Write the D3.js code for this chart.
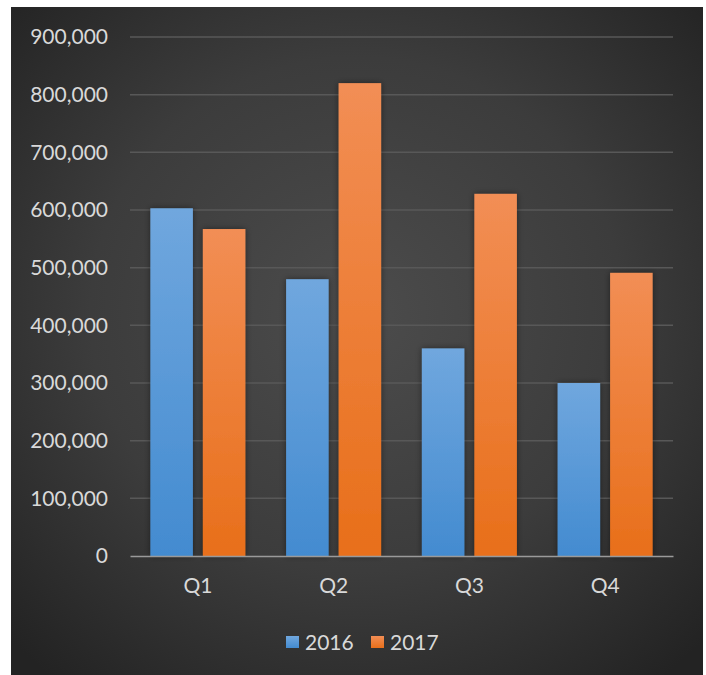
<!DOCTYPE html>
<html>
<head>
<meta charset="utf-8">
<script src="https://cdn.jsdelivr.net/npm/d3@7"></script>
<style>
  html, body { margin: 0; padding: 0; background: #ffffff; }
  svg { display: block; }
  text { font-family: Lato, "Open Sans", sans-serif; }
</style>
</head>
<body>
<svg id="chart" width="706" height="675"></svg>
<script>
// Quarterly totals by year
const quarters = ["Q1", "Q2", "Q3", "Q4"];
const seriesNames = ["2016", "2017"];
const values2016 = [603000, 480000, 360000, 300000];
const values2017 = [567000, 820000, 628000, 491000];
const yTicks = [0, 100000, 200000, 300000, 400000, 500000, 600000, 700000, 800000, 900000];

const seriesValues = { "2016": values2016, "2017": values2017 };
const colors = {
  "2016": { top: "#70a7de", bottom: "#438bd0" },
  "2017": { top: "#f28e55", bottom: "#e86f1a" }
};

const svg = d3.select("#chart");
const defs = svg.append("defs");

// Dark panel with a soft radial glow
const bg = defs.append("radialGradient").attr("id", "bgGrad")
  .attr("cx", "50%").attr("cy", "46%").attr("r", "70%");
bg.append("stop").attr("offset", "0%").attr("stop-color", "#4c4c4c");
bg.append("stop").attr("offset", "55%").attr("stop-color", "#3c3c3c");
bg.append("stop").attr("offset", "100%").attr("stop-color", "#232323");

seriesNames.forEach(s => {
  const g = defs.append("linearGradient").attr("id", "grad" + s)
    .attr("x1", 0).attr("y1", 0).attr("x2", 0).attr("y2", 1);
  g.append("stop").attr("offset", "0%").attr("stop-color", colors[s].top);
  g.append("stop").attr("offset", "100%").attr("stop-color", colors[s].bottom);
});

const shadow = defs.append("filter").attr("id", "barShadow")
  .attr("x", "-30%").attr("y", "-10%").attr("width", "160%").attr("height", "120%");
shadow.append("feDropShadow").attr("dx", 0).attr("dy", 0)
  .attr("stdDeviation", 3).attr("flood-color", "#000").attr("flood-opacity", 0.45);

svg.append("rect")
  .attr("x", 11).attr("y", 7).attr("width", 692).attr("height", 668)
  .attr("fill", "url(#bgGrad)");

const margin = { left: 130, right: 33, top: 37, bottom: 119 };
const plotW = 706 - margin.left - margin.right;
const plotBottom = 675 - margin.bottom;

const x0 = d3.scaleBand().domain(quarters)
  .range([margin.left, margin.left + plotW])
  .paddingInner(0.3).paddingOuter(0.15);
const x1 = d3.scaleBand().domain(seriesNames)
  .range([0, x0.bandwidth()]).paddingInner(0.19);
const y = d3.scaleLinear().domain([0, 900000]).range([plotBottom, margin.top]);

// Horizontal gridlines
svg.append("g").selectAll("line")
  .data(yTicks.filter(d => d > 0))
  .join("line")
  .attr("x1", margin.left).attr("x2", margin.left + plotW)
  .attr("y1", d => y(d)).attr("y2", d => y(d))
  .attr("stroke", "#585858").attr("stroke-width", 1.5);

// Y axis labels
const yAxis = d3.axisLeft(y).tickValues(yTicks)
  .tickFormat(d3.format(",")).tickSize(0).tickPadding(22);
const yg = svg.append("g").attr("transform", `translate(${margin.left},0)`).call(yAxis);
yg.select(".domain").remove();
yg.selectAll("text").attr("fill", "#d9d9d9").style("font-size", "21px")
  .style("font-family", "Lato, 'Open Sans', sans-serif");

// Bars
const groups = svg.append("g").selectAll("g")
  .data(quarters)
  .join("g")
  .attr("transform", d => `translate(${x0(d)},0)`);

groups.selectAll("rect")
  .data((q, i) => seriesNames.map(s => ({ s, v: seriesValues[s][i] })))
  .join("rect")
  .attr("x", d => x1(d.s))
  .attr("width", x1.bandwidth())
  .attr("y", d => y(d.v))
  .attr("height", d => y(0) - y(d.v))
  .attr("fill", d => `url(#grad${d.s})`)
  .attr("filter", "url(#barShadow)");

// Category axis
const xAxis = d3.axisBottom(x0).tickSize(0).tickPadding(22);
const xg = svg.append("g").attr("transform", `translate(0,${plotBottom})`).call(xAxis);
xg.select(".domain").attr("stroke", "#9a9a9a").attr("stroke-width", 1.5);
xg.selectAll("text").attr("fill", "#d9d9d9").style("font-size", "21px")
  .style("font-family", "Lato, 'Open Sans', sans-serif");

// Legend
const legend = svg.append("g").attr("transform", "translate(286,642)");
const legendItems = legend.selectAll("g")
  .data(seriesNames)
  .join("g")
  .attr("transform", (d, i) => `translate(${i * 85},0)`);
legendItems.append("rect")
  .attr("x", 0).attr("y", -6).attr("width", 13).attr("height", 12)
  .attr("fill", d => `url(#grad${d})`);
legendItems.append("text")
  .attr("x", 19).attr("y", 0).attr("dy", "0.36em")
  .attr("fill", "#d9d9d9").style("font-size", "21px")
  .text(d => d);
</script>
</body>
</html>
